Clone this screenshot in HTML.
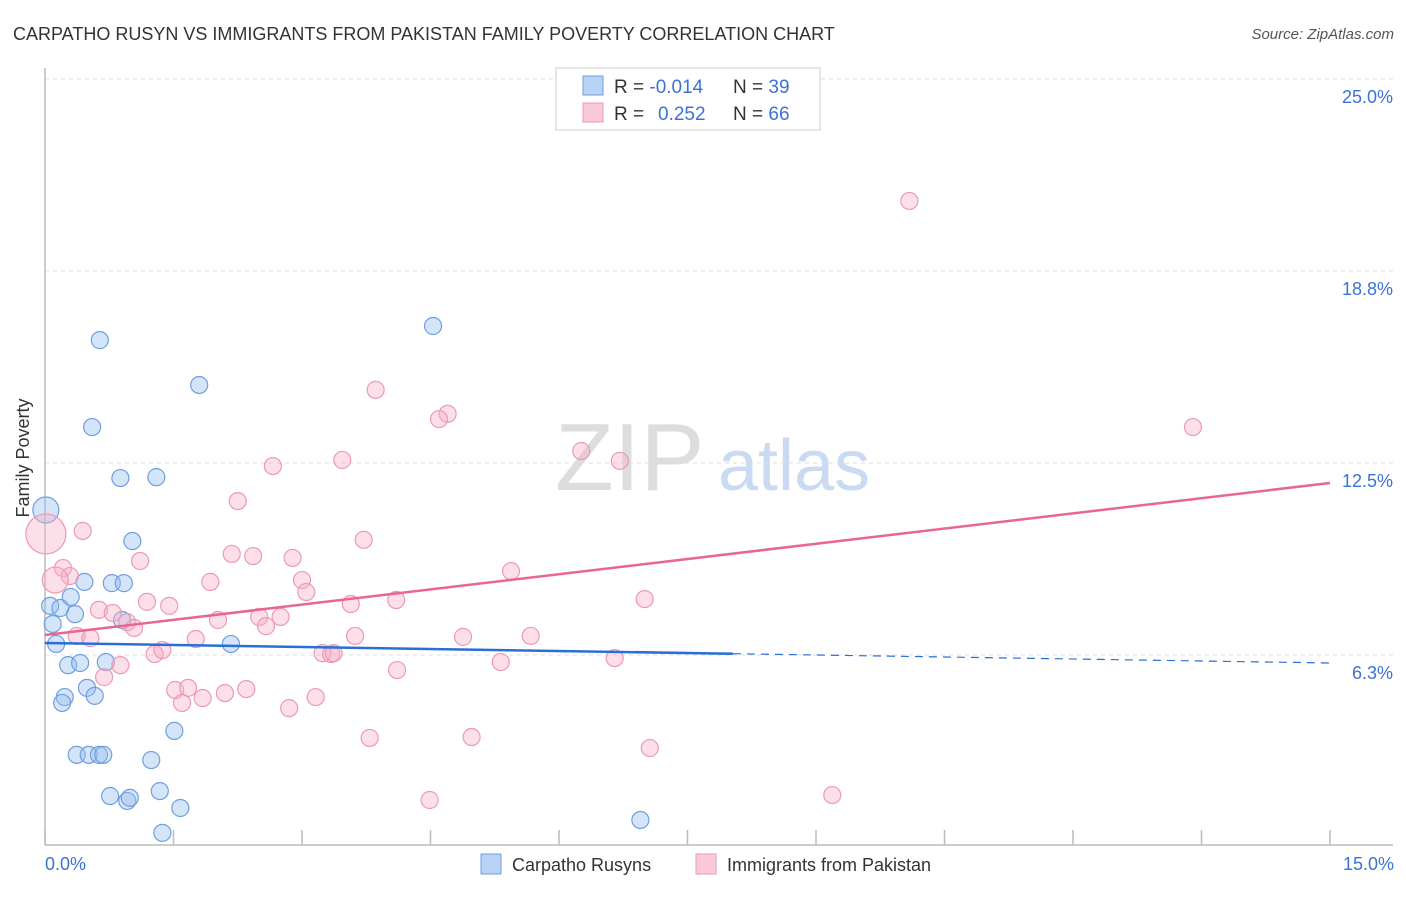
<!DOCTYPE html>
<html><head><meta charset="utf-8"><style>
body{margin:0;background:#fff;font-family:"Liberation Sans",sans-serif;}
svg text{font-family:"Liberation Sans",sans-serif;}
</style></head><body>
<svg width="1406" height="892" xmlns="http://www.w3.org/2000/svg">
<text x="13" y="40" font-size="18" fill="#333">CARPATHO RUSYN VS IMMIGRANTS FROM PAKISTAN FAMILY POVERTY CORRELATION CHART</text>
<text x="1394" y="39" font-size="15" fill="#555" font-style="italic" text-anchor="end">Source: ZipAtlas.com</text>
<g><text x="555" y="490" font-size="96" fill="#ddd" font-family="Liberation Serif">ZIP</text><text x="718" y="490" font-size="72" fill="#c9daf2">atlas</text></g>
<g id="grid"></g><g id="axes"></g><g id="blue"></g><g id="pink"></g><g id="trend"></g>
<text x="29" y="458" font-size="18" fill="#333" transform="rotate(-90 29 458)" text-anchor="middle">Family Poverty</text>
<text x="45" y="870" font-size="18" fill="#3b73d4">0.0%</text>
<text x="1394" y="870" font-size="18" fill="#3b73d4" text-anchor="end">15.0%</text>
<g>
<rect x="556" y="68" width="264" height="62" fill="#fff" stroke="#ccc"/>
<rect x="583" y="76" width="20" height="19" fill="#b9d3f4" stroke="#6f9fdf"/>
<rect x="583" y="103" width="20" height="19" fill="#fac9d8" stroke="#ec9ab4"/>
<text x="614" y="93" font-size="19" fill="#333">R = <tspan fill="#3b73d4">-0.014</tspan><tspan x="733">N = </tspan><tspan fill="#3b73d4">39</tspan></text>
<text x="614" y="120" font-size="19" fill="#333">R = <tspan x="658" fill="#3b73d4">0.252</tspan><tspan x="733">N = </tspan><tspan fill="#3b73d4">66</tspan></text>
</g>
<g>
<rect x="481" y="854" width="20" height="20" fill="#b9d3f4" stroke="#6f9fdf"/>
<text x="512" y="871" font-size="18" fill="#333">Carpatho Rusyns</text>
<rect x="696" y="854" width="20" height="20" fill="#fac9d8" stroke="#ec9ab4"/>
<text x="727" y="871" font-size="18" fill="#333">Immigrants from Pakistan</text>
</g>
</svg>
<script>
const yTicks=[6.3,12.5,18.8,25.0];
const yTickVals=[6.25,12.5,18.75,25.0];
const xTickVals=[0,1.5,3,4.5,6,7.5,9,10.5,12,13.5,15];
const blueX=[0.01,0.55,0.64,1.80,4.53,0.88,1.30,1.02,0.46,0.78,0.92,0.06,0.18,0.30,0.35,0.09,0.90,0.13,2.17,0.27,0.41,0.71,0.23,0.20,0.49,0.58,1.51,0.37,0.51,0.63,0.68,1.24,0.76,0.96,0.99,1.34,1.58,1.37,6.95];
const blueY=[10.97,13.67,16.5,15.04,16.96,12.01,12.04,9.96,8.63,8.59,8.59,7.85,7.78,8.14,7.58,7.26,7.39,6.61,6.61,5.92,5.99,6.02,4.88,4.69,5.18,4.92,3.78,3.0,3.0,3.0,3.0,2.83,1.66,1.5,1.6,1.82,1.27,0.46,0.88];
const pinkX=[10.09,13.40,3.86,4.70,4.60,6.26,6.71,3.47,2.66,2.25,0.01,0.44,3.72,2.18,2.43,2.89,1.11,0.21,0.29,0.12,1.93,3.0,3.05,5.44,1.19,1.45,0.63,0.79,3.57,4.10,7.0,2.02,2.50,2.75,0.96,1.04,2.58,0.37,0.53,1.76,3.62,4.88,5.67,1.28,1.37,3.24,3.34,3.37,5.32,6.65,0.88,0.69,4.11,1.52,1.67,1.60,1.84,2.10,2.35,3.16,2.85,3.79,4.98,7.06,4.49,9.19];
const pinkY=[21.03,13.67,14.88,14.1,13.93,12.89,12.57,12.6,12.4,11.26,10.19,10.29,10.0,9.54,9.47,9.41,9.31,9.08,8.82,8.69,8.63,8.69,8.3,8.98,7.98,7.85,7.72,7.62,7.91,8.04,8.07,7.39,7.49,7.49,7.32,7.13,7.19,6.87,6.8,6.77,6.87,6.84,6.87,6.28,6.41,6.31,6.28,6.31,6.02,6.15,5.92,5.53,5.76,5.11,5.18,4.69,4.85,5.01,5.14,4.88,4.52,3.55,3.58,3.22,1.53,1.69];
const blueTrend=[6.64,5.99];const blueSolidEnd=8.03;
const pinkTrend=[6.90,11.85];
const NS="http://www.w3.org/2000/svg";
const X=v=>45+v/15*1285, Y=v=>655-(v-6.25)*30.72;
function mk(p,t,a){const e=document.createElementNS(NS,t);for(const k in a)e.setAttribute(k,a[k]);document.getElementById(p).appendChild(e);return e;}
yTickVals.forEach((v,i)=>{
 const g=mk('grid','line',{x1:45,x2:1393,y1:Y(v),y2:Y(v),stroke:'#ddd','stroke-dasharray':'4,4'});
 
 
 const t=mk('grid','text',{x:1393,y:Y(v)+24,'font-size':18,fill:'#3b73d4','text-anchor':'end'});
 
 
 t.textContent=yTicks[i].toFixed(1)+'%';
});
const ax=mk('axes','line',{x1:45,x2:45,y1:68,y2:845,stroke:'#bbb','stroke-width':1.5});


const bx=mk('axes','line',{x1:45,x2:1393,y1:845,y2:845,stroke:'#bbb','stroke-width':1.5});


xTickVals.forEach(v=>{const t=mk('axes','line',{x1:X(v),x2:X(v),y1:830,y2:845,stroke:'#bbb','stroke-width':1.5});
 
 });
blueX.forEach((v,i)=>{const c=mk('blue','circle',{cx:X(v),cy:Y(blueY[i]),r:i==0?13:8.5,fill:'rgba(150,190,240,0.4)',stroke:'#6f9fdf','stroke-width':1.2});
 
 });
pinkX.forEach((v,i)=>{const c=mk('pink','circle',{cx:X(v),cy:Y(pinkY[i]),r:i==10?20:(i==19?13:8.5),fill:'rgba(248,175,198,0.4)',stroke:'#ec9ab4','stroke-width':1.2});
 
 });
const bt=v=>blueTrend[0]+(blueTrend[1]-blueTrend[0])*v/15;
const l1=mk('trend','line',{x1:X(0),y1:Y(bt(0)),x2:X(blueSolidEnd),y2:Y(bt(blueSolidEnd)),stroke:'#2b6fd6','stroke-width':2.5});


const l2=mk('trend','line',{x1:X(blueSolidEnd),y1:Y(bt(blueSolidEnd)),x2:X(15),y2:Y(bt(15)),stroke:'#2b6fd6','stroke-width':1.2,'stroke-dasharray':'8,6'});


const l3=mk('trend','line',{x1:X(0),y1:Y(pinkTrend[0]),x2:X(15),y2:Y(pinkTrend[1]),stroke:'#e8668f','stroke-width':2.5});


</script>
</body></html>
